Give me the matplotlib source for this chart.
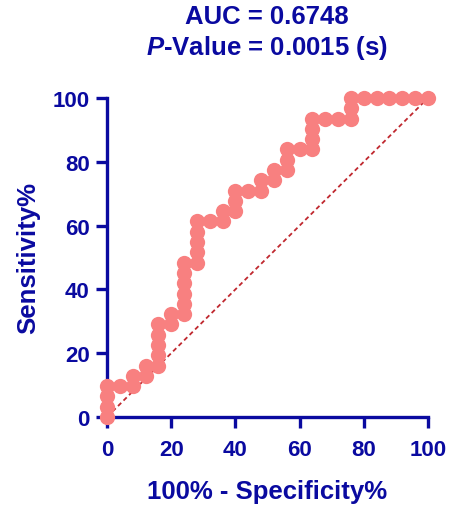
import matplotlib.pyplot as plt

# ROC points: 25 negatives (x step 4%), 31 positives (y step 1/31)
neg_count = [0, 0, 0, 0, 1, 2, 2, 3, 3, 4, 4, 4, 4, 4, 5, 5, 6, 6, 6, 6, 6, 6,
             7, 7, 7, 7, 7, 8, 9, 9, 10, 10, 10, 11, 12, 12, 13, 13, 14, 14, 14,
             15, 16, 16, 16, 16, 17, 18, 19, 19, 19, 20, 21, 22, 23, 24, 25]
pos_count = [0, 1, 2, 3, 3, 3, 4, 4, 5, 5, 6, 7, 8, 9, 9, 10, 10, 11, 12, 13, 14, 15,
             15, 16, 17, 18, 19, 19, 19, 20, 20, 21, 22, 22, 22, 23, 23, 24, 24, 25, 26,
             26, 26, 27, 28, 29, 29, 29, 29, 30, 31, 31, 31, 31, 31, 31, 31]
n_neg = 25
n_pos = 31
x_ticks = [0, 20, 40, 60, 80, 100]
y_ticks = [0, 20, 40, 60, 80, 100]

fpr = [100 * n / n_neg for n in neg_count]
tpr = [100 * p / n_pos for p in pos_count]

navy = '#0A0AA0'
plt.rcParams['font.family'] = 'Liberation Sans'
plt.rcParams['mathtext.fontset'] = 'custom'
plt.rcParams['mathtext.rm'] = 'Liberation Sans:bold'
plt.rcParams['mathtext.bf'] = 'Liberation Sans:bold'
plt.rcParams['mathtext.bfit'] = 'Liberation Sans:bold:italic'
plt.rcParams['mathtext.it'] = 'Liberation Sans:bold:italic'

fig = plt.figure(figsize=(4.5, 5.1), dpi=100)
ax = fig.add_axes([107 / 450, 1 - 418 / 510, 321 / 450, 319 / 510])

ax.plot([0, 100], [0, 100], linestyle=(0, (2.5, 1.8)), color='#C0282F', lw=1.3, zorder=2)
ax.plot(fpr, tpr, linestyle='none', marker='o', markersize=11,
        color='#F88080', markeredgewidth=0, clip_on=False, zorder=3)

ax.set_xlim(0, 100)
ax.set_ylim(0, 100)
ax.set_xticks(x_ticks)
ax.set_yticks(y_ticks)
for side in ['top', 'right']:
    ax.spines[side].set_visible(False)
for side in ['left', 'bottom']:
    ax.spines[side].set_color(navy)
    ax.spines[side].set_linewidth(2.4)
ax.tick_params(colors=navy, width=2.4, length=8, labelsize=16)
ax.tick_params(axis='x', pad=7.5)
ax.tick_params(axis='y', pad=4.5)
for lab in ax.get_xticklabels() + ax.get_yticklabels():
    lab.set_fontweight('bold')

ax.set_xlabel('100% - Specificity%', fontsize=18.5, fontweight='bold', color=navy, va='center')
ax.set_ylabel('Sensitivity%', fontsize=18.5, fontweight='bold', color=navy, va='center')
ax.xaxis.set_label_coords(0.5, -74 / 319)
ax.yaxis.set_label_coords(-79 / 321, 0.5)

fig.text(267 / 450, 1 - 17 / 510, 'AUC = 0.6748', ha='center', va='center',
         fontsize=18.5, fontweight='bold', color=navy)
fig.text(267 / 450, 1 - 48 / 510, r'$\mathbfit{P}$-Value = 0.0015 (s)', ha='center', va='center',
         fontsize=18.5, fontweight='bold', color=navy)

fig.savefig('out.png', dpi=100)
